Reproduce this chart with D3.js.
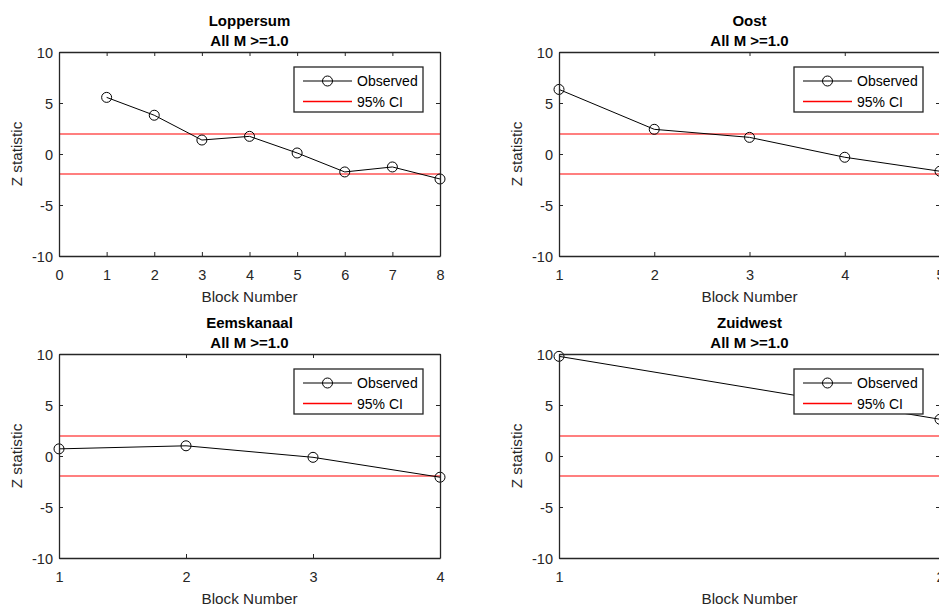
<!DOCTYPE html>
<html>
<head>
<meta charset="utf-8">
<script src="https://cdn.jsdelivr.net/npm/d3@7"></script>
<style>
  body { margin: 0; background: #fff; }
  text { font-family: "Liberation Sans", Arial, sans-serif; fill: #262626; }
</style>
</head>
<body>
<div id="chart"></div>
<script>
const dim = { width: 939, height: 608 }

// data
const regions = ['Loppersum', 'Oost', 'Eemskanaal', 'Zuidwest']
const subtitle = 'All M >=1.0'
const loppersum = [5.55, 3.8, 1.37, 1.73, 0.1, -1.76, -1.27, -2.45]
const oost = [6.33, 2.42, 1.63, -0.32, -1.69]
const eemskanaal = [0.7, 1.0, -0.13, -2.08]
const zuidwest = [9.77, 3.6]
const xDomains = [[0, 8], [1, 5], [1, 4], [1, 2]]
const yTicks = [-10, -5, 0, 5, 10]
const ciLevel = 1.96
const legendLabels = ['Observed', '95% CI']

const series = [loppersum, oost, eemskanaal, zuidwest]

// panel frames
const frames = [
    { left: 59, top: 52 },
    { left: 559, top: 52 },
    { left: 59, top: 354 },
    { left: 559, top: 354 }
]
const plotW = 381
const plotH = 204

const svg = d3.select('#chart')
    .append('svg')
        .attr('width', dim.width)
        .attr('height', dim.height)

// plain hyphen for negatives, like the original
const fmt = d => String(d)

regions.forEach((name, i) => {
    const f = frames[i]
    const values = series[i]
    const g = svg.append('g')
        .attr('transform', `translate(${f.left},${f.top})`)

    const xScale = d3.scaleLinear()
        .domain(xDomains[i])
        .range([0, plotW])
    const yScale = d3.scaleLinear()
        .domain([-10, 10])
        .range([plotH, 0])

    const xTicks = d3.range(xDomains[i][0], xDomains[i][1] + 1)

    // CI lines
    g.selectAll('.ci')
        .data([ciLevel, -ciLevel])
        .join('line')
            .attr('class', 'ci')
            .attr('x1', 0)
            .attr('x2', plotW)
            .attr('y1', d => yScale(d))
            .attr('y2', d => yScale(d))
            .attr('stroke', '#ff0000')
            .attr('stroke-width', 1.2)

    // observed line
    const pts = values.map((v, j) => [j + 1, v])
    g.append('path')
        .datum(pts)
        .attr('fill', 'none')
        .attr('stroke', '#000')
        .attr('stroke-width', 1)
        .attr('d', d3.line().x(d => xScale(d[0])).y(d => yScale(d[1])))

    g.selectAll('.marker')
        .data(pts)
        .join('circle')
            .attr('class', 'marker')
            .attr('cx', d => xScale(d[0]))
            .attr('cy', d => yScale(d[1]))
            .attr('r', 5)
            .attr('fill', 'none')
            .attr('stroke', '#000')
            .attr('stroke-width', 1)

    // axes (ticks inside, mirrored on top/right)
    const axisColor = '#262626'
    const bottom = g.append('g')
        .attr('transform', `translate(0,${plotH})`)
        .call(d3.axisBottom(xScale).tickValues(xTicks).tickFormat(fmt).tickSizeInner(-4).tickSizeOuter(0).tickPadding(0))
    const top = g.append('g')
        .call(d3.axisTop(xScale).tickValues(xTicks).tickFormat('').tickSizeInner(-4).tickSizeOuter(0))
    const left = g.append('g')
        .call(d3.axisLeft(yScale).tickValues(yTicks).tickFormat(fmt).tickSizeInner(-4).tickSizeOuter(0).tickPadding(6))
    const right = g.append('g')
        .attr('transform', `translate(${plotW},0)`)
        .call(d3.axisRight(yScale).tickValues(yTicks).tickFormat('').tickSizeInner(-4).tickSizeOuter(0))

    for (const ax of [bottom, top, left, right]) {
        ax.select('.domain').attr('stroke', axisColor).attr('stroke-width', 1.3)
        ax.selectAll('.tick line').attr('stroke', axisColor)
        ax.selectAll('text')
            .attr('font-size', 14.5)
            .attr('font-family', '"Liberation Sans", Arial, sans-serif')
            .attr('fill', axisColor)
    }
    bottom.selectAll('text').attr('y', 23.5).attr('dy', 0)
    left.selectAll('text').attr('dy', '0.37em')

    // titles
    g.append('text')
        .attr('x', plotW / 2)
        .attr('y', -26.5)
        .attr('text-anchor', 'middle')
        .attr('font-size', 15)
        .attr('font-weight', 'bold')
        .style('fill', '#000')
        .text(name)
    g.append('text')
        .attr('x', plotW / 2)
        .attr('y', -6.5)
        .attr('text-anchor', 'middle')
        .attr('font-size', 15)
        .attr('font-weight', 'bold')
        .style('fill', '#000')
        .text(subtitle)

    // axis labels
    g.append('text')
        .attr('x', plotW / 2)
        .attr('y', plotH + 45.5)
        .attr('text-anchor', 'middle')
        .attr('font-size', 15.3)
        .text('Block Number')
    g.append('text')
        .attr('transform', `translate(-37,${plotH / 2}) rotate(-90)`)
        .attr('text-anchor', 'middle')
        .attr('font-size', 15.3)
        .text('Z statistic')

    // legend
    const lg = g.append('g')
        .attr('transform', `translate(${plotW - 146},15)`)
    lg.append('rect')
        .attr('width', 129)
        .attr('height', 45)
        .attr('fill', '#fff')
        .attr('stroke', axisColor)
        .attr('stroke-width', 1.3)
    lg.append('line')
        .attr('x1', 9).attr('x2', 58)
        .attr('y1', 14).attr('y2', 14)
        .attr('stroke', '#000')
        .attr('stroke-width', 1.2)
    lg.append('line')
        .attr('x1', 9).attr('x2', 58)
        .attr('y1', 34.5).attr('y2', 34.5)
        .attr('stroke', '#ff0000')
        .attr('stroke-width', 1.4)
    lg.append('circle')
        .attr('cx', 33.5)
        .attr('cy', 14)
        .attr('r', 5)
        .attr('fill', 'none')
        .attr('stroke', '#000')
    lg.selectAll('.leg-text')
        .data(legendLabels)
        .join('text')
            .attr('class', 'leg-text')
            .attr('x', 63)
            .attr('y', (d, k) => 14 + k * 20.5)
            .attr('dy', '0.36em')
            .attr('font-size', 14)
            .style('fill', '#000')
            .text(d => d)
})
</script>
</body>
</html>
